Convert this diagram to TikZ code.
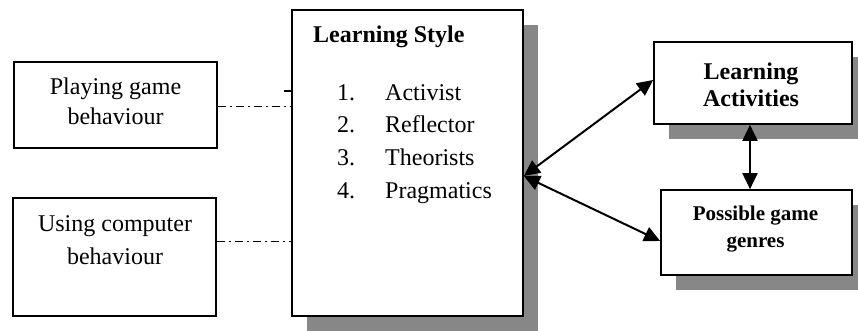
\documentclass[tikz,border=0pt]{standalone}
\usepackage{fontspec}
\setmainfont{Liberation Serif}
\usetikzlibrary{arrows.meta,shadows,calc}
\definecolor{shadowgray}{RGB}{135,135,135}
\tikzset{
  box/.style={draw, line width=1.7pt, fill=white, inner sep=0pt},
  shadowed/.style={drop shadow={shadow xshift=15pt, shadow yshift=-15pt, fill=shadowgray, opacity=1}},
  txt/.style={anchor=base, inner sep=0pt, font=\fontsize{24}{29}\selectfont},
  btxt/.style={anchor=base, inner sep=0pt, font=\fontsize{24}{29}\selectfont\bfseries},
  stxt/.style={anchor=base, inner sep=0pt, font=\fontsize{21}{26}\selectfont\bfseries},
  link/.style={line width=2pt, {Triangle[length=16pt,width=15pt]}-{Triangle[length=16pt,width=15pt]}},
  dashdot/.style={line width=1pt, dash pattern=on 8pt off 4pt on 2pt off 4pt},
}
\begin{document}
\begin{tikzpicture}[x=1pt,y=-1pt]
\useasboundingbox (0,0) rectangle (858,331);
% left boxes
\node[box, minimum width=203pt, minimum height=86pt] (b1) at (115.5,105) {};
\node[txt] (b1a) at (115.5,95) {Playing game};
\node[txt] (b1b) at (115.5,125) {behaviour};
\node[box, minimum width=203pt, minimum height=118pt] (b2) at (114.5,257) {};
\node[txt] (b2a) at (115,231) {Using computer};
\node[txt] (b2b) at (115,264) {behaviour};
% central box
\node[box, shadowed, minimum width=231pt, minimum height=306pt] (cb) at (407.5,163) {};
\node[btxt, anchor=base west] (cbt) at (313,43) {Learning Style};
\node[txt, anchor=base west] (n1) at (337,101) {1.};
\node[txt, anchor=base west] (i1) at (385,101) {Activist};
\node[txt, anchor=base west] (n2) at (337,133) {2.};
\node[txt, anchor=base west] (i2) at (385,133) {Reflector};
\node[txt, anchor=base west] (n3) at (337,165) {3.};
\node[txt, anchor=base west] (i3) at (385,165) {Theorists};
\node[txt, anchor=base west] (n4) at (337,198) {4.};
\node[txt, anchor=base west] (i4) at (385,198) {Pragmatics};
% right boxes
\node[box, shadowed, minimum width=198pt, minimum height=82pt] (la) at (753,83) {};
\node[btxt] (laa) at (751,80) {Learning};
\node[btxt] (lab) at (751,107) {Activities};
\node[box, shadowed, minimum width=191pt, minimum height=85pt] (pg) at (756.5,232.5) {};
\node[stxt] (pga) at (755.5,220) {Possible game};
\node[stxt] (pgb) at (755.5,247) {genres};
% connectors
\draw[dashdot] (b1.east |- 0,107) -- (cb.west |- 0,107);
\draw[dashdot] (b2.east |- 0,241) -- (cb.west |- 0,241);
\draw[line width=1.2pt] (cb.west |- 0,91) -- ++(-7,0);
\coordinate (hub) at ($(cb.east)+(0,13)$);
\coordinate (laend) at ($(la.west)+(0,-3)$);
\coordinate (pgend) at ($(pg.west)+(0,8.5)$);
\coordinate (vtop) at ($(la.south)+(-3,0)$);
\coordinate (vbot) at (vtop |- pg.north);
\draw[link] (hub) -- (laend);
\draw[link] (hub) -- (pgend);
\draw[link] (vtop) -- (vbot);
\end{tikzpicture}
\end{document}
